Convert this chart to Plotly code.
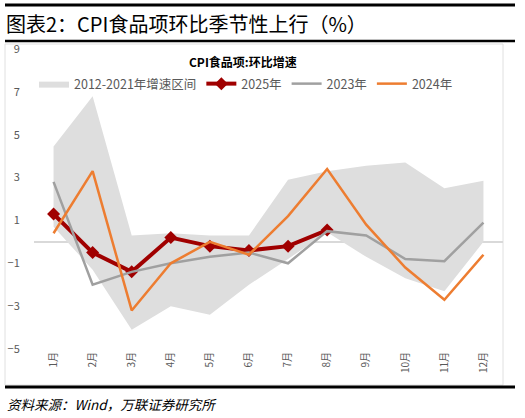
import plotly.graph_objects as go

months = ['1月', '2月', '3月', '4月', '5月', '6月', '7月', '8月', '9月', '10月', '11月', '12月']
band_low = [0.7, -1.3, -4.1, -3.0, -3.4, -2.0, -0.8, 0.45, -0.7, -1.7, -2.3, 0.0]
band_high = [4.45, 6.8, 0.3, 0.4, 0.3, 0.3, 2.9, 3.3, 3.55, 3.7, 2.5, 2.85]
y2025 = [1.3, -0.5, -1.4, 0.2, -0.2, -0.4, -0.2, 0.55]
y2023 = [2.8, -2.0, -1.4, -1.0, -0.7, -0.5, -1.0, 0.5, 0.3, -0.8, -0.9, 0.9]
y2024 = [0.4, 3.3, -3.2, -1.0, 0.0, -0.6, 1.2, 3.4, 0.8, -1.2, -2.7, -0.6]

W, H = 525, 418
L, R, T, B = 34, 503, 49, 349


def px(x):
    return (x - L) / (R - L)


def py(y):
    return (B - y) / (B - T)


fig = go.Figure()
fig.add_trace(go.Scatter(x=months, y=band_low, mode='lines', line=dict(width=0),
                         hoverinfo='skip', showlegend=False))
fig.add_trace(go.Scatter(x=months, y=band_high, mode='lines', line=dict(width=0),
                         fill='tonexty', fillcolor='#dedede', name='2012-2021年增速区间'))
fig.add_trace(go.Scatter(x=months[:len(y2025)], y=y2025, mode='lines+markers', name='2025年',
                         line=dict(color='#a00000', width=4),
                         marker=dict(symbol='diamond', size=10, color='#a00000')))
fig.add_trace(go.Scatter(x=months, y=y2023, mode='lines', name='2023年',
                         line=dict(color='#a0a0a0', width=2.5)))
fig.add_trace(go.Scatter(x=months, y=y2024, mode='lines', name='2024年',
                         line=dict(color='#ed7d31', width=2.5)))

grey = '#595959'
fig.update_layout(
    width=W, height=H,
    margin=dict(l=L, r=W - R, t=T, b=H - B, autoexpand=False),
    paper_bgcolor='white', plot_bgcolor='white',
    font=dict(family='Noto Sans CJK SC', color=grey),
    showlegend=True,
    legend=dict(orientation='h', x=0, xanchor='left', y=py(84), yanchor='middle',
                traceorder='normal', font=dict(size=12.5, color=grey),
                bgcolor='rgba(0,0,0,0)'),
    xaxis=dict(type='category', range=[-0.5, 11.5], showgrid=False, showline=False, ticks='',
               automargin=False, tickangle=-90, tickfont=dict(size=10, color=grey)),
    yaxis=dict(range=[-5, 9], dtick=2, tick0=-5, showgrid=False, showline=False,
               zeroline=True, zerolinecolor='#d9d9d9', zerolinewidth=2, automargin=False,
               ticks='outside', ticklen=11, tickcolor='rgba(0,0,0,0)',
               tickfont=dict(size=11, color=grey)),
    shapes=[
        dict(type='rect', xref='paper', yref='paper', x0=px(5), x1=px(503), y0=py(44), y1=py(385),
             line=dict(color='#e0e0e0', width=1), layer='below'),
        dict(type='line', xref='paper', yref='paper', x0=px(5), x1=px(515), y0=py(5), y1=py(5),
             line=dict(color='black', width=3)),
        dict(type='line', xref='paper', yref='paper', x0=px(5), x1=px(515), y0=py(41), y1=py(41),
             line=dict(color='black', width=2.5)),
        dict(type='line', xref='paper', yref='paper', x0=px(5), x1=px(515), y0=py(387), y1=py(387),
             line=dict(color='black', width=3)),
    ],
    annotations=[
        dict(text='图表2：CPI食品项环比季节性上行（%）', xref='paper', yref='paper',
             x=px(4), y=py(23), xanchor='left', yanchor='middle', showarrow=False,
             font=dict(size=20, color='black')),
        dict(text='<b>CPI食品项:环比增速</b>', xref='paper', yref='paper',
             x=px(243), y=py(61), xanchor='center', yanchor='middle', showarrow=False,
             font=dict(size=12, color='black')),
        dict(text='资料来源：Wind，万联证券研究所', xref='paper', yref='paper',
             x=px(5), y=py(404), xanchor='left', yanchor='middle', showarrow=False,
             font=dict(size=13.5, color='black', style='italic')),
    ],
)

# drop the default page margin so the figure sits at the window's top-left corner
fig.write_html("out.html", config={'displayModeBar': False},
               post_script="document.body.style.margin='0px';")
